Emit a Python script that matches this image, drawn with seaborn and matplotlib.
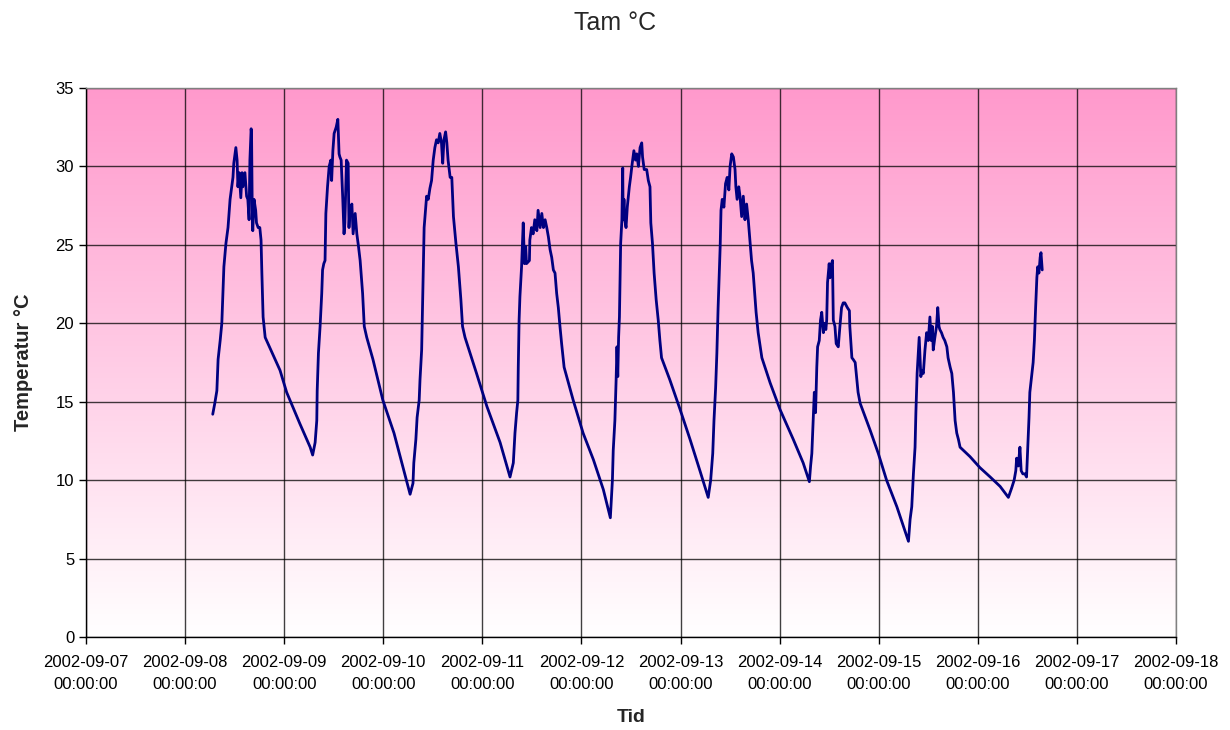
import numpy as np
import pandas as pd
import matplotlib
matplotlib.use("Agg")
import matplotlib.pyplot as plt
import matplotlib.dates as mdates
from matplotlib.colors import LinearSegmentedColormap
import seaborn as sns

# Measurement series: hours since 2002-09-07 00:00 and air temperature (°C)
hours = [
    30.7, 31.2, 31.7, 32.0, 32.5, 32.9, 33.1, 33.4, 33.9, 34.4, 34.9, 35.3, 35.6, 35.8,
    36.3, 36.6, 36.8, 37.1, 37.5, 37.8, 38.0, 38.5, 38.9, 39.2, 39.5, 39.7, 40.0, 40.1,
    40.3, 40.4, 40.7, 41.1, 41.3, 41.7, 42.1, 42.4, 42.6, 42.9, 43.4, 47.0, 48.6, 51.8,
    54.3, 54.9, 55.5, 55.9, 56.0, 56.3, 56.7, 57.1, 57.3, 57.6, 57.9, 58.1, 58.5, 58.9,
    59.3, 59.5, 59.8, 60.1, 60.6, 61.0, 61.3, 61.5, 61.8, 62.2, 62.5, 62.7, 63.1, 63.5,
    63.7, 63.9, 64.4, 64.7, 65.2, 65.6, 66.0, 66.4, 67.0, 67.4, 68.0, 69.5, 71.9, 74.6,
    76.8, 78.5, 79.2, 79.4, 79.9, 80.2, 80.7, 80.9, 81.3, 81.5, 81.7, 81.9, 82.5, 82.9,
    83.3, 83.7, 84.1, 84.5, 84.9, 85.3, 85.7, 86.1, 86.4, 86.7, 87.1, 87.4, 87.7, 88.2,
    88.6, 89.0, 89.6, 90.2, 90.8, 91.2, 91.8, 94.6, 97.1, 100.3, 102.7, 103.5, 103.9,
    104.3, 104.6, 104.7, 104.9, 105.1, 105.5, 105.9, 106.2, 106.5, 106.7, 107.4, 107.5,
    107.9, 108.3, 108.7, 109.2, 109.5, 110.0, 110.4, 110.8, 111.2, 111.6, 112.0, 112.4,
    112.8, 113.2, 113.6, 114.0, 114.4, 114.8, 115.2, 115.8, 118.0, 120.4, 122.9, 125.3,
    127.0, 127.5, 127.7, 128.1, 128.4, 128.6, 128.8, 129.0, 129.2, 129.5, 129.8, 130.0,
    130.1, 130.3, 130.5, 130.8, 131.1, 131.6, 131.9, 132.3, 132.7, 133.1, 133.4, 133.8,
    134.2, 134.6, 134.8, 135.2, 135.8, 136.2, 136.6, 136.8, 137.2, 137.6, 138.1, 138.6,
    139.0, 139.4, 141.4, 143.9, 146.3, 148.7, 150.7, 151.3, 151.8, 152.1, 152.5, 152.8,
    152.9, 153.1, 153.6, 153.8, 154.1, 154.5, 154.9, 155.3, 155.7, 156.0, 156.4, 156.8,
    157.0, 157.2, 157.4, 157.7, 158.1, 158.4, 158.8, 159.2, 159.6, 160.0, 160.4, 160.8,
    161.2, 161.6, 162.3, 162.8, 163.7, 165.7, 168.1, 171.3, 173.7, 175.2, 175.5, 175.8,
    176.0, 176.2, 176.4, 176.7, 177.0, 177.2, 177.6, 177.9, 178.2, 178.6, 178.8, 179.2,
    179.4, 179.6, 180.0, 180.2, 180.4, 180.8, 181.0, 181.4, 181.7, 182.2, 182.6, 183.0,
    183.4, 183.8, 184.4, 184.9, 185.0, 185.5, 185.8, 186.3, 186.7, 187.0, 187.5, 189.9,
    191.9, 193.9, 196.4, 199.2, 199.6, 200.0, 200.4, 200.8, 201.0, 201.3, 201.8, 202.2,
    202.5, 202.8, 203.2, 203.6, 204.0, 204.4, 204.7, 205.0, 205.2, 205.6, 206.0, 206.3,
    206.6, 206.8, 207.2, 207.6, 208.0, 208.5, 208.8, 209.3, 209.7, 210.1, 210.5, 210.9,
    211.3, 211.7, 214.1, 216.5, 219.0, 221.4, 223.4, 224.2, 224.8, 225.2, 225.4, 225.8,
    226.2, 226.5, 226.9, 227.4, 227.8, 228.1, 228.4, 228.6, 229.1, 229.4, 229.7, 230.0,
    230.3, 230.5, 230.8, 231.1, 231.3, 231.6,
]
temps = [
    14.2, 14.9, 15.7, 17.7, 18.9, 20.0, 21.5, 23.6, 25.1, 26.1, 27.9, 28.7, 29.3, 30.2,
    31.2, 30.4, 28.7, 29.6, 28.0, 29.6, 28.7, 29.6, 28.1, 27.9, 26.6, 30.4, 32.4, 32.1,
    26.4, 25.9, 27.9, 27.2, 26.4, 26.1, 26.1, 25.3, 23.2, 20.4, 19.1, 17.0, 15.6, 13.6,
    12.1, 11.6, 12.4, 13.8, 15.7, 18.1, 19.8, 21.9, 23.4, 23.8, 24.0, 27.0, 28.7, 30.0,
    30.4, 29.1, 31.0, 32.1, 32.5, 33.0, 30.8, 30.6, 30.4, 27.9, 25.7, 26.4, 30.4, 30.2,
    26.1, 27.2, 27.6, 25.7, 27.0, 25.7, 24.9, 24.0, 21.9, 19.8, 19.1, 17.7, 15.1, 13.0,
    10.8, 9.1, 9.8, 11.1, 12.6, 14.0, 15.1, 16.4, 18.3, 21.0, 23.4, 26.1, 28.1, 27.9,
    28.6, 29.1, 30.4, 31.2, 31.7, 31.5, 32.1, 31.5, 30.2, 31.7, 32.2, 31.5, 30.4, 29.3,
    29.3, 26.8, 25.1, 23.6, 21.5, 19.8, 19.1, 16.8, 14.7, 12.4, 10.2, 11.1, 13.0,
    14.3, 15.1, 17.2, 20.2, 21.7, 23.6, 26.4, 23.8, 24.9, 23.8, 24.0, 25.3,
    26.1, 25.7, 26.6, 25.9, 27.2, 26.1, 27.0, 26.1, 26.6, 26.1, 25.5, 24.7,
    24.2, 23.4, 23.2, 21.9, 21.0, 19.8, 18.7, 17.2, 15.1, 13.0, 11.3, 9.4,
    7.6, 10.0, 11.9, 13.8, 16.4, 18.5, 16.6, 19.1, 20.4, 25.1, 26.6, 29.9,
    26.6, 27.9, 26.6, 26.1, 27.4, 28.7, 29.3, 30.2, 31.0, 30.4, 30.8, 30.0,
    31.2, 31.5, 30.6, 29.8, 29.8, 29.1, 28.7, 26.4, 25.1, 23.2, 21.5, 20.2,
    18.9, 17.8, 16.4, 14.5, 12.6, 10.6, 8.9, 10.0, 11.7, 13.8, 15.9, 18.1,
    19.1, 21.0, 24.9, 27.2, 27.9, 27.4, 28.9, 29.3, 28.5, 30.0, 30.8, 30.6,
    30.2, 29.8, 28.7, 27.9, 28.7, 28.1, 26.8, 28.1, 26.6, 27.6, 26.6, 25.3,
    24.0, 23.2, 20.7, 19.4, 17.8, 16.2, 14.5, 12.6, 11.1, 9.9, 10.9, 11.7,
    13.0, 14.3, 15.6, 14.3, 17.2, 18.5, 18.9, 20.2, 20.7, 19.4, 20.0, 19.6,
    20.2, 22.6, 23.8, 22.9, 23.6, 24.0, 20.2, 19.8, 18.7, 18.5, 19.8, 21.0,
    21.3, 21.3, 21.0, 20.8, 19.8, 17.8, 17.7, 17.5, 16.4, 15.6, 14.9, 13.2,
    11.7, 10.0, 8.3, 6.1, 7.5, 8.3, 10.4, 12.1, 14.3, 16.8, 19.1, 16.6,
    17.0, 16.8, 18.3, 19.4, 18.9, 20.4, 18.9, 19.8, 18.3, 19.1, 19.8, 21.0,
    19.8, 19.6, 19.4, 19.1, 18.9, 18.5, 17.8, 17.2, 16.8, 15.6, 13.8, 13.0,
    12.6, 12.1, 11.5, 10.8, 10.2, 9.6, 8.9, 9.5, 10.0, 10.6, 11.4, 10.9,
    12.1, 10.6, 10.4, 10.4, 10.2, 12.1, 14.0, 15.6, 16.8, 17.5, 18.9, 21.0,
    22.9, 23.6, 23.2, 24.2, 24.5, 23.4,
]

start = "2002-09-07"
end = "2002-09-18"
y_ticks = [0, 5, 10, 15, 20, 25, 30, 35]
title_text = "Tam °C"
x_label = "Tid"
y_label = "Temperatur °C"

df = pd.DataFrame({
    "Tid": pd.Timestamp(start) + pd.to_timedelta(hours, unit="h"),
    "Tam": temps,
})

sns.set_style("white")
plt.rcParams["font.family"] = ["Liberation Sans", "DejaVu Sans"]

fig = plt.figure(figsize=(12.3, 7.3), dpi=100)
ax = fig.add_axes([0.0699, 0.1274, 0.8862, 0.7521])

x0 = mdates.date2num(pd.Timestamp(start))
x1 = mdates.date2num(pd.Timestamp(end))

# Pink-to-white vertical gradient behind the plot area
grad = np.linspace(1, 0, 256).reshape(-1, 1)
cmap = LinearSegmentedColormap.from_list("pinkfade", ["#ffffff", "#ff99cc"])
ax.imshow(grad, cmap=cmap, aspect="auto", extent=[x0, x1, 0, 35],
          origin="upper", zorder=0, interpolation="bilinear")

sns.lineplot(data=df, x="Tid", y="Tam", ax=ax, color="#000080",
             linewidth=2.0, zorder=3, estimator=None, sort=False)

ax.set_xlim(x0, x1)
ax.set_ylim(0, 35)
ax.set_yticks(y_ticks)
ax.xaxis.set_major_locator(mdates.DayLocator())
ax.xaxis.set_major_formatter(mdates.DateFormatter("%Y-%m-%d\n%H:%M:%S"))

ax.grid(True, color="#000000", linewidth=1.0, alpha=0.75, zorder=1)
for line in ax.get_xgridlines() + ax.get_ygridlines():
    line.set_zorder(1)

for side in ["top", "right"]:
    ax.spines[side].set_color("#808080")
    ax.spines[side].set_linewidth(1.0)
for side in ["left", "bottom"]:
    ax.spines[side].set_color("#000000")
    ax.spines[side].set_linewidth(1.0)

ax.tick_params(axis="both", which="major", direction="out", length=5,
               width=1, color="#000000", labelsize=12, labelcolor="#000000",
               bottom=True, left=True)
ax.tick_params(axis="x", pad=8)
for lab in ax.get_xticklabels():
    lab.set_horizontalalignment("center")
    lab.set_multialignment("center")
    lab.set_linespacing(1.6)

ax.set_xlabel(x_label, fontsize=14, fontweight="bold", labelpad=12)
ax.set_ylabel(y_label, fontsize=14.5, fontweight="bold", labelpad=16)
fig.suptitle(title_text, fontsize=18, y=0.985)

fig.savefig("out.png", dpi=100)
